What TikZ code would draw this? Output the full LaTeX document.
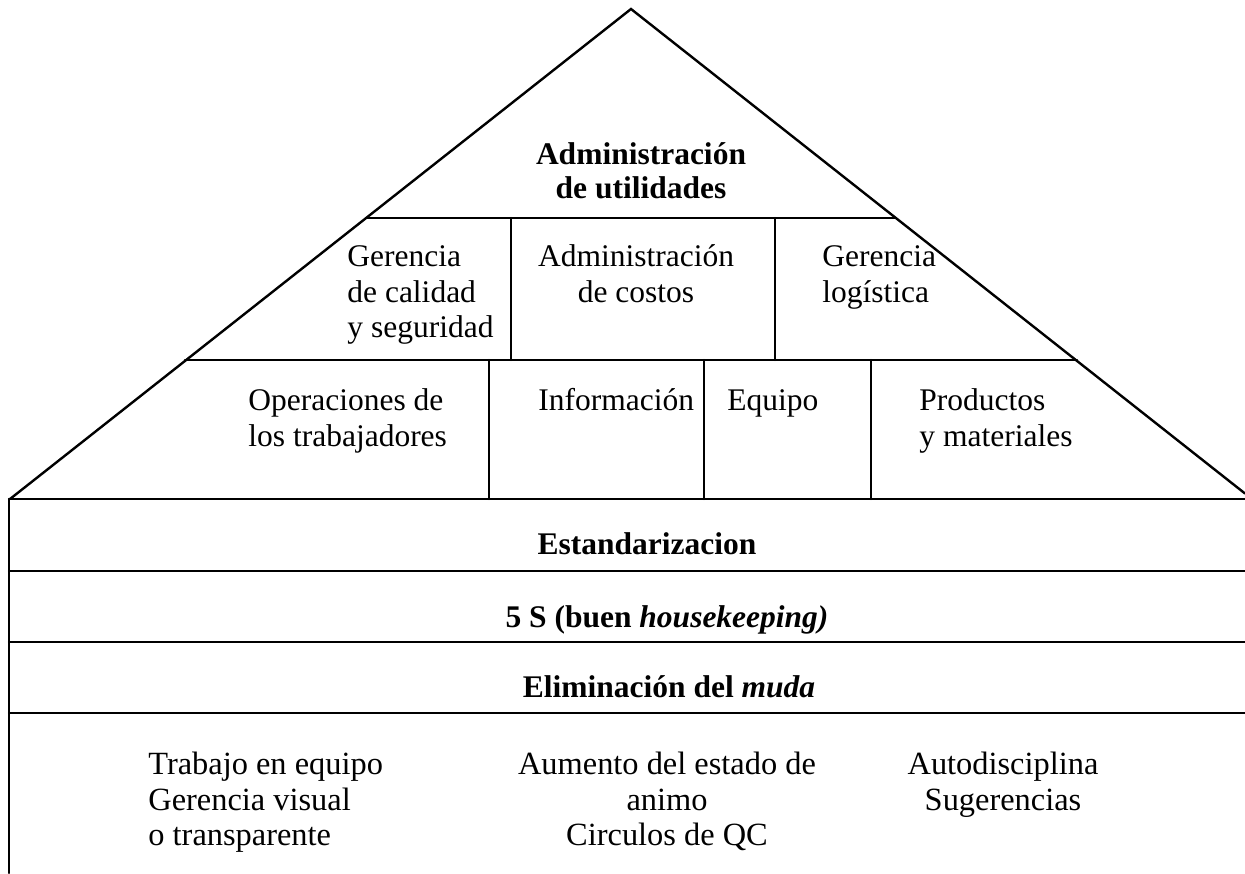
\documentclass[tikz,border=0pt]{standalone}
\usepackage{fontspec}
\setmainfont{Liberation Serif}
\begin{document}
\begin{tikzpicture}[x=0.5pt,y=-0.5pt,
  edge/.style={line width=1.2pt,line cap=round,line join=miter},
  txt/.style={inner sep=0pt,font=\fontsize{15.75}{17}\selectfont},
  btxt/.style={txt,font=\fontsize{15.75}{17}\selectfont\bfseries},
  ltxt/.style={txt,font=\fontsize{16.2}{17}\selectfont},
  lft/.style={anchor=base west},
  ctr/.style={anchor=base}]
\useasboundingbox (0,0) rectangle (1245,873);
% roof coordinates
\coordinate (apex) at (631,9);
\coordinate (bl) at (10,499);
\coordinate (br) at (1245,493.5);
\coordinate (l1a) at (366,218);
\coordinate (l1b) at (896,218);
\coordinate (l2a) at (185,360);
\coordinate (l2b) at (1077,360);
% roof
\draw[edge] (bl) -- (apex) -- (br);
\draw[edge] (l1a) -- (l1b);
\draw[edge] (l2a) -- (l2b);
% dividers row 2
\coordinate (d1t) at (511,218); \coordinate (d1b) at (511,360);
\coordinate (d2t) at (775,218); \coordinate (d2b) at (775,360);
\draw[edge] (d1t) -- (d1b);
\draw[edge] (d2t) -- (d2b);
% dividers row 3
\coordinate (e1t) at (489,360); \coordinate (e1b) at (489,499);
\coordinate (e2t) at (704,360); \coordinate (e2b) at (704,499);
\coordinate (e3t) at (871,360); \coordinate (e3b) at (871,499);
\draw[edge] (e1t) -- (e1b);
\draw[edge] (e2t) -- (e2b);
\draw[edge] (e3t) -- (e3b);
% bands
\coordinate (h0a) at (9,499); \coordinate (h0b) at (1245,499);
\coordinate (h1a) at (9,571); \coordinate (h1b) at (1245,571);
\coordinate (h2a) at (9,642); \coordinate (h2b) at (1245,642);
\coordinate (h3a) at (9,713); \coordinate (h3b) at (1245,713);
\coordinate (vb) at (9,873);
\draw[edge] (h0a) -- (h0b);
\draw[edge] (h1a) -- (h1b);
\draw[edge] (h2a) -- (h2b);
\draw[edge] (h3a) -- (h3b);
\draw[edge] (h0a) -- (vb);
% top
\node[btxt,ctr] (t1) at (641,164) {Administración};
\node[btxt,ctr] (t2) at (641,198) {de utilidades};
% row 2
\node[txt,lft] (g1) at (347,266) {Gerencia};
\node[txt,lft] (g2) at (347,302) {de calidad};
\node[txt,lft] (g3) at (347,337) {y seguridad};
\node[txt,ctr] (c1) at (636,266) {Administración};
\node[txt,ctr] (c2) at (636,302) {de costos};
\node[txt,lft] (r1) at (822,266) {Gerencia};
\node[txt,lft] (r2) at (822,302) {logística};
% row 3
\node[txt,lft] (o1) at (248,410) {Operaciones de};
\node[txt,lft] (o2) at (248,446) {los trabajadores};
\node[txt,lft] (inf) at (538,410) {Información};
\node[txt,lft] (eq) at (727,410) {Equipo};
\node[txt,lft] (p1) at (919,410) {Productos};
\node[txt,lft] (p2) at (919,446) {y materiales};
% bands
\node[btxt,ctr] (est) at (647,554) {Estandarizacion};
\node[btxt,ctr] (fs) at (667,627) {5 S (buen \textit{housekeeping)}};
\node[btxt,ctr] (eli) at (669,697) {Eliminación del \textit{muda}};
% bottom
\node[ltxt,lft] (b1) at (148,774) {Trabajo en equipo};
\node[ltxt,lft] (b2) at (148,810) {Gerencia visual};
\node[ltxt,lft] (b3) at (148,845) {o transparente};
\node[ltxt,ctr] (m1) at (667,774) {Aumento del estado de};
\node[ltxt,ctr] (m2) at (667,810) {animo};
\node[ltxt,ctr] (m3) at (667,845) {Circulos de QC};
\node[ltxt,ctr] (a1) at (1003,774) {Autodisciplina};
\node[ltxt,ctr] (a2) at (1003,810) {Sugerencias};
\end{tikzpicture}
\end{document}
